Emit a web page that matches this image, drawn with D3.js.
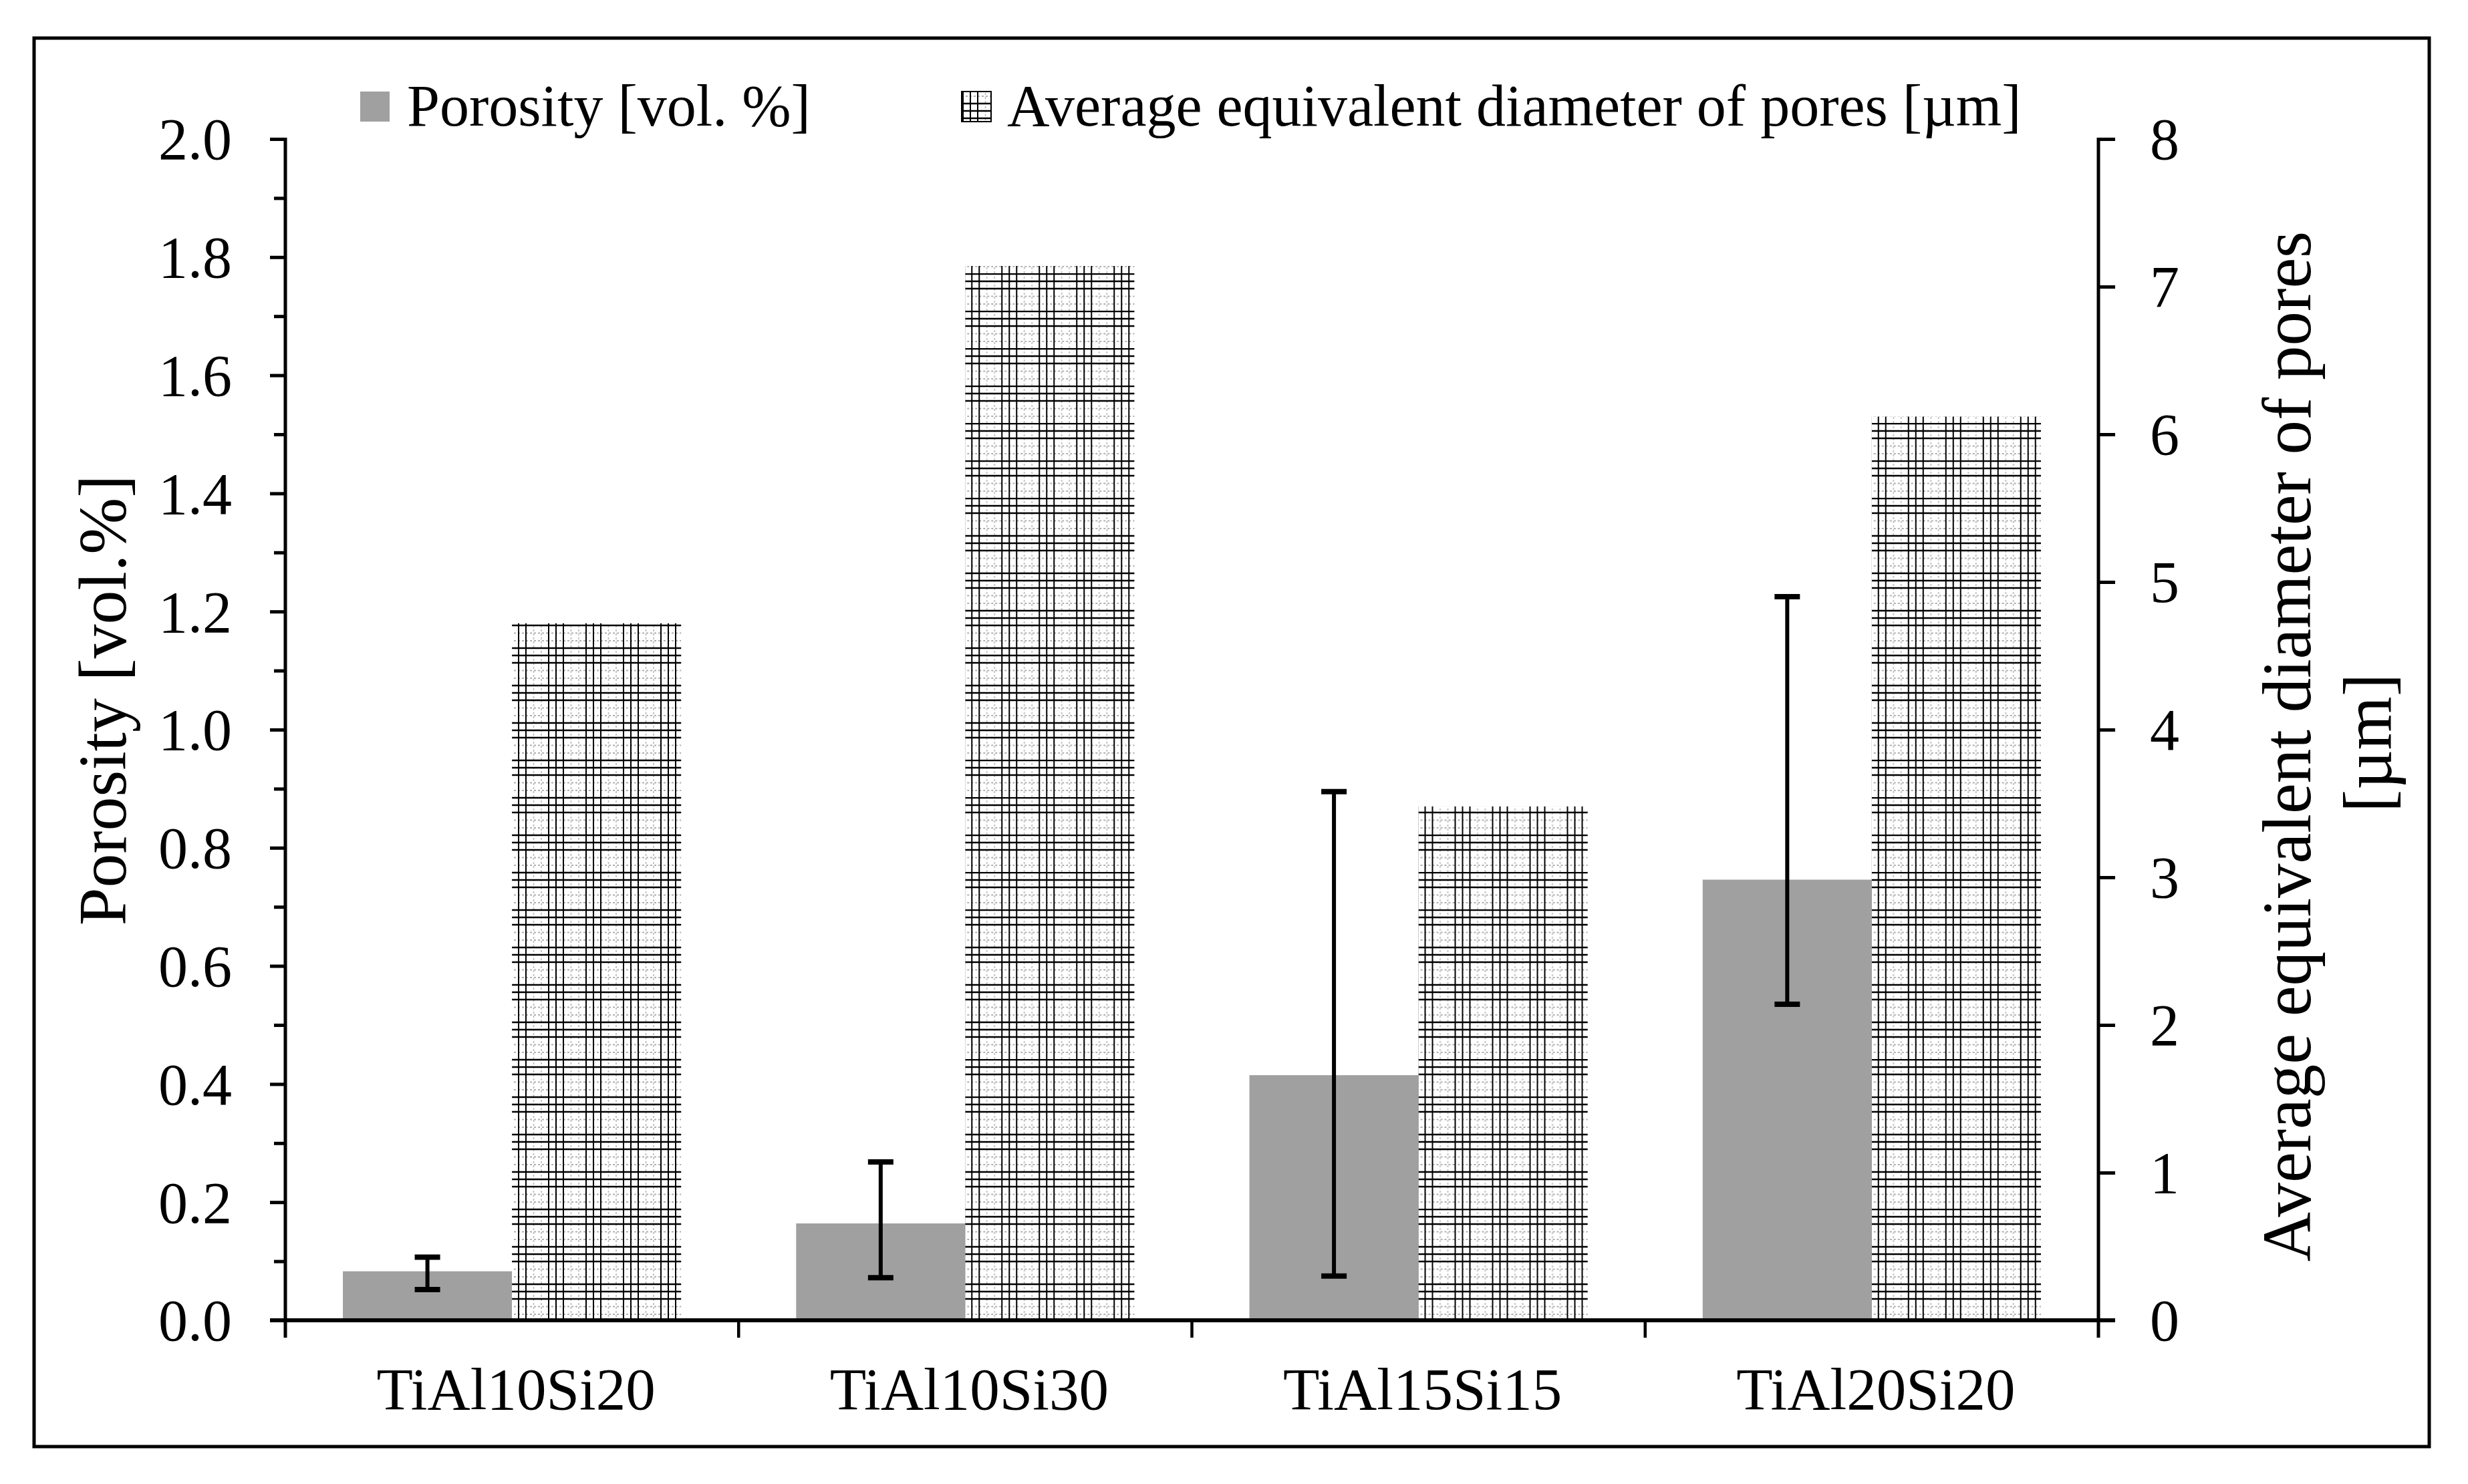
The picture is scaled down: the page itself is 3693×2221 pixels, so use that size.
<!DOCTYPE html>
<html>
<head>
<meta charset="utf-8">
<script src="https://cdn.jsdelivr.net/npm/d3@7"></script>
<style>
  html, body { margin: 0; padding: 0; background: #fff; }
  svg text { font-family: "Liberation Serif", "Times New Roman", serif; fill: #000; }
</style>
</head>
<body>
<div id="chart"></div>
<script>
const width = 3693
const height = 2221

// data
const categories = ['TiAl10Si20', 'TiAl10Si30', 'TiAl15Si15', 'TiAl20Si20']
const series = ['Porosity [vol. %]', 'Average equivalent diameter of pores [µm]']
const porosity = [0.083, 0.164, 0.415, 0.746]
const porosityLow = [0.052, 0.072, 0.075, 0.535]
const porosityHigh = [0.107, 0.268, 0.895, 1.225]
const diameter = [4.72, 7.14, 3.48, 6.12]
const leftTicks = [0, 0.2, 0.4, 0.6, 0.8, 1.0, 1.2, 1.4, 1.6, 1.8, 2.0]
const leftMinor = [0.1, 0.3, 0.5, 0.7, 0.9, 1.1, 1.3, 1.5, 1.7, 1.9]
const rightTicks = [0, 1, 2, 3, 4, 5, 6, 7, 8]

const plotLeft = 427
const plotRight = 3140
const plotTop = 208
const plotBottom = 1976

const svg = d3.select('#chart')
  .append('svg')
  .attr('width', width)
  .attr('height', height)

svg.append('rect')
  .attr('width', width)
  .attr('height', height)
  .attr('fill', '#fff')

// small grid hatch
const defs = svg.append('defs')
const pat = defs.append('pattern')
  .attr('id', 'grid')
  .attr('patternUnits', 'userSpaceOnUse')
  .attr('width', 56)
  .attr('height', 56)
  .attr('y', plotBottom)
pat.append('rect').attr('width', 56).attr('height', 56).attr('fill', '#fff')
const darkOff = [2, 13, 24]
const greyOff = [35.5, 47]
greyOff.forEach(o => {
  pat.append('line').attr('x1', o).attr('x2', o).attr('y1', 0).attr('y2', 56)
    .attr('stroke', '#b8b8b8').attr('stroke-width', 1.6).attr('stroke-dasharray', '3,3')
  pat.append('line').attr('y1', o).attr('y2', o).attr('x1', 0).attr('x2', 56)
    .attr('stroke', '#b0b0b0').attr('stroke-width', 1.8).attr('stroke-dasharray', '3,3')
})
darkOff.forEach(o => {
  pat.append('line').attr('x1', o).attr('x2', o).attr('y1', 0).attr('y2', 56)
    .attr('stroke', '#000').attr('stroke-width', 2)
  pat.append('line').attr('y1', o).attr('y2', o).attr('x1', 0).attr('x2', 56)
    .attr('stroke', '#000').attr('stroke-width', 2.6)
})

// scales
const x0 = d3.scaleBand()
  .domain(categories)
  .range([plotLeft, plotRight])
  .padding(0)

const x1 = d3.scaleBand()
  .domain(series)
  .range([0, x0.bandwidth()])
  .paddingInner(0)
  .paddingOuter(0.34)

const yL = d3.scaleLinear().domain([0, 2]).range([plotBottom, plotTop])
const yR = d3.scaleLinear().domain([0, 8]).range([plotBottom, plotTop])

// bars
const groups = svg.append('g')
  .selectAll('g')
  .data(categories)
  .join('g')
  .attr('transform', d => `translate(${x0(d)},0)`)

groups.append('rect')
  .attr('x', x1(series[0]))
  .attr('width', x1.bandwidth())
  .attr('y', (d, i) => yL(porosity[i]))
  .attr('height', (d, i) => plotBottom - yL(porosity[i]))
  .attr('fill', '#a0a0a0')

groups.append('rect')
  .attr('x', x1(series[1]))
  .attr('width', x1.bandwidth())
  .attr('y', (d, i) => yR(diameter[i]))
  .attr('height', (d, i) => plotBottom - yR(diameter[i]))
  .attr('fill', 'url(#grid)')

// error bars
const cx = x1(series[0]) + x1.bandwidth() / 2
groups.append('line')
  .attr('x1', cx).attr('x2', cx)
  .attr('y1', (d, i) => yL(porosityHigh[i]))
  .attr('y2', (d, i) => yL(porosityLow[i]))
  .attr('stroke', '#000').attr('stroke-width', 6)
groups.selectAll('.cap')
  .data((d, i) => [porosityHigh[i], porosityLow[i]])
  .join('line')
  .attr('class', 'cap')
  .attr('x1', cx - 19).attr('x2', cx + 19)
  .attr('y1', d => yL(d)).attr('y2', d => yL(d))
  .attr('stroke', '#000').attr('stroke-width', 8)

// left axis
const axL = svg.append('g')
  .attr('transform', `translate(${plotLeft},0)`)
  .call(d3.axisLeft(yL).tickValues(leftTicks).tickFormat(d3.format('.1f')).tickSize(23).tickPadding(57))
axL.select('.domain').remove()
axL.selectAll('line').attr('stroke', '#000').attr('stroke-width', 5)
axL.selectAll('text').attr('font-size', 88).attr('dy', '0.34em')

const axLm = svg.append('g')
  .attr('transform', `translate(${plotLeft},0)`)
  .call(d3.axisLeft(yL).tickValues(leftMinor).tickFormat('').tickSize(17))
axLm.select('.domain').remove()
axLm.selectAll('line').attr('stroke', '#000').attr('stroke-width', 5)

// right axis
const axR = svg.append('g')
  .attr('transform', `translate(${plotRight},0)`)
  .call(d3.axisRight(yR).tickValues(rightTicks).tickFormat(d3.format('d')).tickSize(25).tickPadding(52))
axR.select('.domain').remove()
axR.selectAll('line').attr('stroke', '#000').attr('stroke-width', 5)
axR.selectAll('text').attr('font-size', 88).attr('dy', '0.34em')

// vertical axis lines
svg.append('line').attr('x1', plotLeft).attr('x2', plotLeft).attr('y1', plotTop - 2).attr('y2', plotBottom + 26)
  .attr('stroke', '#000').attr('stroke-width', 5)
svg.append('line').attr('x1', plotRight).attr('x2', plotRight).attr('y1', plotTop - 2).attr('y2', plotBottom + 26)
  .attr('stroke', '#000').attr('stroke-width', 5)

// x axis
svg.append('line').attr('x1', plotLeft - 23).attr('x2', plotRight + 25).attr('y1', plotBottom).attr('y2', plotBottom)
  .attr('stroke', '#000').attr('stroke-width', 6)
svg.append('g')
  .selectAll('line')
  .data(categories.slice(1))
  .join('line')
  .attr('x1', d => x0(d)).attr('x2', d => x0(d))
  .attr('y1', plotBottom).attr('y2', plotBottom + 26)
  .attr('stroke', '#000').attr('stroke-width', 4.5)

svg.append('g')
  .selectAll('text')
  .data(categories)
  .join('text')
  .attr('x', d => x0(d) + x0.bandwidth() / 2 + 6)
  .attr('y', 2109)
  .attr('text-anchor', 'middle')
  .attr('font-size', 89)
  .text(d => d)

// axis titles
svg.append('text')
  .attr('transform', 'translate(188,1048) rotate(-90)')
  .attr('text-anchor', 'middle')
  .attr('font-size', 102)
  .text('Porosity [vol.%]')

svg.append('text')
  .attr('transform', 'translate(3457,1117) rotate(-90)')
  .attr('text-anchor', 'middle')
  .attr('font-size', 103)
  .text('Average equivalent diameter of pores')
svg.append('text')
  .attr('transform', 'translate(3578,1112) rotate(-90)')
  .attr('text-anchor', 'middle')
  .attr('font-size', 103)
  .text('[µm]')

// legend
const legendX = [539, 1439]
const legend = svg.append('g')
  .selectAll('g')
  .data(series)
  .join('g')
  .attr('transform', (d, i) => `translate(${legendX[i]},137)`)
legend.append('rect')
  .attr('width', 44).attr('height', 45)
  .attr('fill', (d, i) => i === 0 ? '#a0a0a0' : 'url(#grid)')
  .attr('stroke', (d, i) => i === 0 ? 'none' : '#000')
  .attr('stroke-width', 2)
legend.append('text')
  .attr('x', (d, i) => i === 0 ? 70 : 68)
  .attr('y', 51)
  .attr('font-size', 88)
  .text(d => d)

// outer frame
svg.append('rect')
  .attr('x', 51).attr('y', 57)
  .attr('width', 3584).attr('height', 2108)
  .attr('fill', 'none')
  .attr('stroke', '#000')
  .attr('stroke-width', 5)
</script>
</body>
</html>
